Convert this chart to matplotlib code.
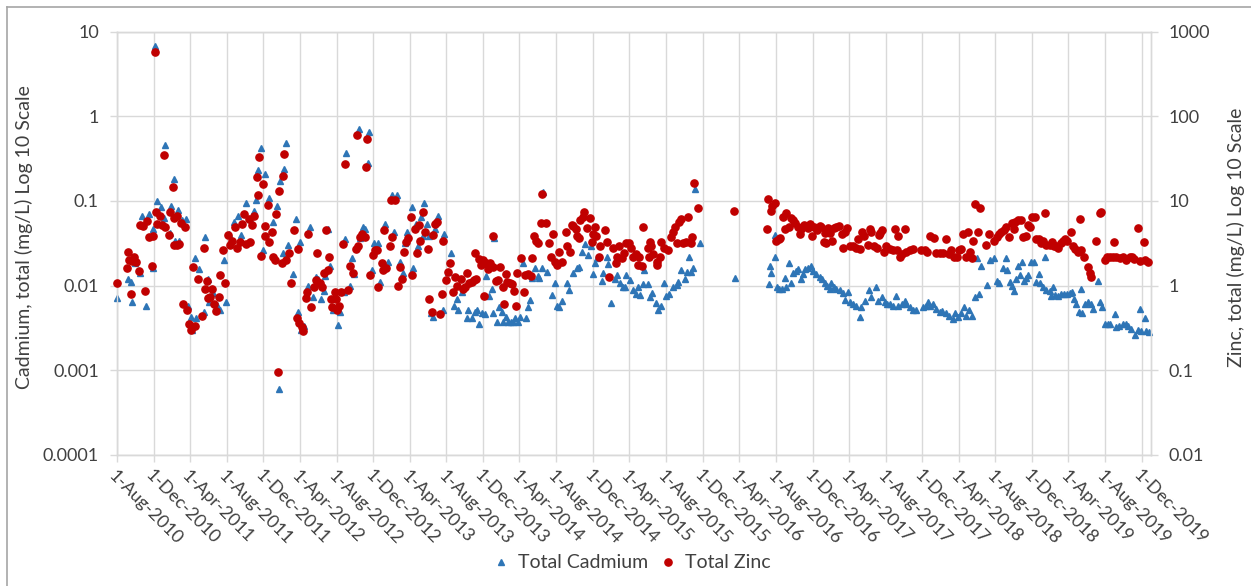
import matplotlib
matplotlib.use('Agg')
import matplotlib.pyplot as plt
from matplotlib.lines import Line2D
from matplotlib.ticker import FixedLocator, FixedFormatter, NullLocator
import pandas as pd

# --- data: (sample date, mg/L) ---
cadmium = [
    ('2010-08-01', 0.0071), ('2010-09-06', 0.0118), ('2010-09-16', 0.011), ('2010-09-20', 0.0064),
    ('2010-10-01', 0.0184), ('2010-10-17', 0.0139), ('2010-10-24', 0.067), ('2010-11-05', 0.0057),
    ('2010-11-15', 0.07), ('2010-11-28', 0.0163), ('2010-11-30', 0.047), ('2010-12-07', 6.8),
    ('2010-12-12', 0.099), ('2010-12-26', 0.085),
    ('2011-01-03', 0.062), ('2011-01-09', 0.46), ('2011-01-25', 0.042), ('2011-01-28', 0.087),
    ('2011-02-06', 0.18), ('2011-02-11', 0.034), ('2011-02-21', 0.079), ('2011-02-23', 0.034),
    ('2011-03-06', 0.059), ('2011-03-20', 0.061), ('2011-03-24', 0.0058), ('2011-04-04', 0.0043),
    ('2011-04-07', 0.0030), ('2011-04-18', 0.021), ('2011-04-22', 0.0041), ('2011-05-02', 0.0155),
    ('2011-05-17', 0.0049), ('2011-05-20', 0.037), ('2011-05-30', 0.0119), ('2011-06-03', 0.0064),
    ('2011-06-16', 0.0081), ('2011-07-01', 0.0059), ('2011-07-11', 0.0052), ('2011-07-24', 0.020),
    ('2011-07-29', 0.0064), ('2011-08-09', 0.041), ('2011-08-26', 0.056), ('2011-09-06', 0.067),
    ('2011-09-19', 0.040), ('2011-10-03', 0.095), ('2011-10-16', 0.061), ('2011-10-31', 0.076),
    ('2011-11-05', 0.103), ('2011-11-13', 0.23), ('2011-11-23', 0.42), ('2011-11-29', 0.026),
    ('2011-12-07', 0.21), ('2011-12-21', 0.107),
    ('2012-01-03', 0.057), ('2012-01-16', 0.088), ('2012-01-23', 0.00059), ('2012-01-26', 0.17),
    ('2012-02-05', 0.024), ('2012-02-08', 0.24), ('2012-02-13', 0.48), ('2012-02-21', 0.030),
    ('2012-03-07', 0.0135), ('2012-03-18', 0.061), ('2012-03-26', 0.0048), ('2012-03-31', 0.033),
    ('2012-04-05', 0.0030), ('2012-04-15', 0.0033), ('2012-04-26', 0.010), ('2012-05-04', 0.049),
    ('2012-05-13', 0.0073), ('2012-05-23', 0.0126), ('2012-06-01', 0.012), ('2012-06-10', 0.0069),
    ('2012-06-21', 0.0086), ('2012-06-24', 0.0130), ('2012-07-02', 0.047), ('2012-07-08', 0.017),
    ('2012-07-18', 0.0051), ('2012-08-04', 0.0034), ('2012-08-12', 0.0049), ('2012-08-26', 0.0084),
    ('2012-08-28', 0.035), ('2012-09-01', 0.37), ('2012-09-14', 0.010), ('2012-09-20', 0.021),
    ('2012-09-29', 0.0135), ('2012-10-14', 0.70), ('2012-10-19', 0.036), ('2012-10-29', 0.049),
    ('2012-11-04', 0.047), ('2012-11-12', 0.28), ('2012-11-16', 0.65), ('2012-11-26', 0.0152),
    ('2012-12-03', 0.032), ('2012-12-17', 0.032), ('2012-12-23', 0.011),
    ('2013-01-09', 0.053), ('2013-01-20', 0.019), ('2013-01-31', 0.116), ('2013-02-09', 0.043),
    ('2013-02-17', 0.116), ('2013-02-28', 0.019), ('2013-03-10', 0.0139), ('2013-03-16', 0.032),
    ('2013-03-22', 0.043), ('2013-04-09', 0.085), ('2013-04-13', 0.0159), ('2013-04-21', 0.053),
    ('2013-04-29', 0.029), ('2013-05-07', 0.065), ('2013-05-16', 0.038), ('2013-05-19', 0.095),
    ('2013-05-27', 0.053), ('2013-06-04', 0.038), ('2013-06-09', 0.0047), ('2013-06-18', 0.0043),
    ('2013-06-24', 0.047), ('2013-07-05', 0.067), ('2013-07-22', 0.0052), ('2013-07-25', 0.041),
    ('2013-08-07', 0.0143), ('2013-08-15', 0.024), ('2013-08-26', 0.0058), ('2013-09-04', 0.0070),
    ('2013-09-10', 0.0051), ('2013-09-23', 0.0084), ('2013-10-07', 0.0041), ('2013-10-13', 0.0051),
    ('2013-10-24', 0.0041), ('2013-11-04', 0.0049), ('2013-11-12', 0.0052), ('2013-11-18', 0.0035),
    ('2013-11-26', 0.0047), ('2013-12-07', 0.0046), ('2013-12-10', 0.0129), ('2013-12-21', 0.0075),
    ('2013-12-29', 0.0092),
    ('2014-01-04', 0.0047), ('2014-01-06', 0.036), ('2014-01-15', 0.0037), ('2014-01-24', 0.0056),
    ('2014-02-01', 0.0049), ('2014-02-06', 0.0037), ('2014-02-15', 0.0042), ('2014-02-23', 0.0037),
    ('2014-03-03', 0.0037), ('2014-03-11', 0.0037), ('2014-03-17', 0.0041), ('2014-03-28', 0.0037),
    ('2014-04-03', 0.0042), ('2014-04-12', 0.0187), ('2014-04-22', 0.0041), ('2014-04-28', 0.0056),
    ('2014-05-06', 0.0067), ('2014-05-12', 0.0121), ('2014-05-23', 0.0159), ('2014-05-31', 0.0129),
    ('2014-06-06', 0.0121), ('2014-06-14', 0.0159), ('2014-06-19', 0.128), ('2014-07-03', 0.0145),
    ('2014-07-17', 0.0077), ('2014-07-28', 0.0107), ('2014-08-03', 0.0058), ('2014-08-10', 0.0055),
    ('2014-08-19', 0.0066), ('2014-09-07', 0.0107), ('2014-09-13', 0.0088), ('2014-09-27', 0.0139),
    ('2014-10-08', 0.0159), ('2014-10-17', 0.0166), ('2014-10-25', 0.025), ('2014-11-05', 0.031),
    ('2014-11-16', 0.023), ('2014-11-24', 0.029), ('2014-11-30', 0.0136), ('2014-12-08', 0.0183),
    ('2014-12-16', 0.021), ('2014-12-30', 0.0113),
    ('2015-01-05', 0.0141), ('2015-01-16', 0.0215), ('2015-01-21', 0.0179), ('2015-01-29', 0.0062),
    ('2015-02-12', 0.0118), ('2015-02-20', 0.0132), ('2015-03-01', 0.0107), ('2015-03-10', 0.0095),
    ('2015-03-17', 0.0097), ('2015-03-23', 0.0132), ('2015-04-03', 0.0116), ('2015-04-14', 0.0088),
    ('2015-04-25', 0.0080), ('2015-05-01', 0.0097), ('2015-05-06', 0.0077), ('2015-05-17', 0.0104),
    ('2015-05-20', 0.0152), ('2015-06-03', 0.0104), ('2015-06-09', 0.0073), ('2015-06-16', 0.0082),
    ('2015-06-28', 0.0062), ('2015-07-07', 0.0051), ('2015-07-15', 0.0058), ('2015-07-26', 0.0107),
    ('2015-08-03', 0.0075), ('2015-08-12', 0.0080), ('2015-08-25', 0.0095), ('2015-09-06', 0.0101),
    ('2015-09-11', 0.0110), ('2015-09-22', 0.0152), ('2015-10-03', 0.0118), ('2015-10-09', 0.0145),
    ('2015-10-16', 0.0215), ('2015-10-25', 0.0145), ('2015-10-31', 0.0163), ('2015-11-05', 0.14),
    ('2015-11-22', 0.032),
    ('2016-03-17', 0.0124), ('2016-07-08', 0.0104), ('2016-07-12', 0.0170), ('2016-07-17', 0.0141),
    ('2016-07-28', 0.0215), ('2016-07-30', 0.039), ('2016-08-06', 0.0097), ('2016-08-13', 0.0090),
    ('2016-08-21', 0.0090), ('2016-08-30', 0.0124), ('2016-09-05', 0.0097), ('2016-09-13', 0.0183),
    ('2016-09-21', 0.0107), ('2016-09-27', 0.0139), ('2016-10-08', 0.0149), ('2016-10-15', 0.0155),
    ('2016-10-24', 0.0118), ('2016-10-30', 0.0136), ('2016-11-07', 0.0155), ('2016-11-16', 0.0159),
    ('2016-11-25', 0.0170), ('2016-12-03', 0.0149), ('2016-12-14', 0.0136), ('2016-12-25', 0.0127),
    ('2017-01-03', 0.0118), ('2017-01-10', 0.0106), ('2017-01-18', 0.0098), ('2017-01-27', 0.0090),
    ('2017-02-02', 0.0107), ('2017-02-09', 0.0095), ('2017-02-18', 0.0090), ('2017-03-02', 0.0088),
    ('2017-03-13', 0.0082), ('2017-03-19', 0.0068), ('2017-03-30', 0.0084), ('2017-04-06', 0.0064),
    ('2017-04-15', 0.0060), ('2017-04-24', 0.0057), ('2017-05-07', 0.0042), ('2017-05-12', 0.0056),
    ('2017-05-23', 0.0066), ('2017-06-07', 0.0088), ('2017-06-15', 0.0073), ('2017-06-29', 0.0097),
    ('2017-07-07', 0.0066), ('2017-07-21', 0.0073), ('2017-07-29', 0.0064), ('2017-08-06', 0.0060),
    ('2017-08-15', 0.0060), ('2017-08-24', 0.0058), ('2017-09-04', 0.0075), ('2017-09-12', 0.0058),
    ('2017-09-23', 0.0060), ('2017-10-04', 0.0066), ('2017-10-09', 0.0061), ('2017-10-20', 0.0055),
    ('2017-10-31', 0.0052), ('2017-11-11', 0.0052), ('2017-12-02', 0.0055), ('2017-12-13', 0.0057),
    ('2017-12-20', 0.0064), ('2017-12-28', 0.0058),
    ('2018-01-06', 0.0060), ('2018-01-17', 0.0053), ('2018-01-28', 0.0049), ('2018-02-06', 0.0050),
    ('2018-02-17', 0.0047), ('2018-02-28', 0.0044), ('2018-03-12', 0.0040), ('2018-03-19', 0.0047),
    ('2018-03-31', 0.0043), ('2018-04-10', 0.0047), ('2018-04-19', 0.0055), ('2018-04-27', 0.0044),
    ('2018-05-06', 0.0052), ('2018-05-17', 0.0044), ('2018-05-25', 0.0073), ('2018-06-01', 0.021),
    ('2018-06-08', 0.0079), ('2018-06-16', 0.0170), ('2018-07-03', 0.0101), ('2018-07-13', 0.020),
    ('2018-07-27', 0.021), ('2018-08-08', 0.0113), ('2018-08-12', 0.0106), ('2018-08-26', 0.0163),
    ('2018-09-04', 0.021), ('2018-09-10', 0.0152), ('2018-09-18', 0.0110), ('2018-09-24', 0.0098),
    ('2018-10-02', 0.0086), ('2018-10-10', 0.0118), ('2018-10-15', 0.017), ('2018-10-21', 0.0132),
    ('2018-10-28', 0.019), ('2018-11-04', 0.0113), ('2018-11-12', 0.0121), ('2018-11-19', 0.0132),
    ('2018-11-28', 0.019), ('2018-12-07', 0.019), ('2018-12-15', 0.0110), ('2018-12-26', 0.0136),
    ('2018-12-29', 0.0106),
    ('2019-01-07', 0.0097), ('2019-01-15', 0.022), ('2019-01-18', 0.0088), ('2019-01-29', 0.0086),
    ('2019-02-03', 0.0075), ('2019-02-09', 0.0095), ('2019-02-16', 0.0077), ('2019-02-27', 0.0075),
    ('2019-03-08', 0.0080), ('2019-03-17', 0.0080), ('2019-03-28', 0.0079), ('2019-04-05', 0.0082),
    ('2019-04-13', 0.0084), ('2019-04-19', 0.0070), ('2019-04-27', 0.0060), ('2019-05-05', 0.0049),
    ('2019-05-12', 0.0090), ('2019-05-17', 0.0047), ('2019-05-27', 0.0060), ('2019-06-05', 0.0064),
    ('2019-06-14', 0.0061), ('2019-06-22', 0.0053), ('2019-07-08', 0.0113), ('2019-07-14', 0.0064),
    ('2019-07-21', 0.0056), ('2019-08-02', 0.0035), ('2019-08-10', 0.0035), ('2019-08-19', 0.0035),
    ('2019-09-02', 0.0046), ('2019-09-07', 0.0032), ('2019-09-18', 0.0033), ('2019-09-29', 0.0035),
    ('2019-10-10', 0.0035), ('2019-10-18', 0.0033), ('2019-10-27', 0.0031), ('2019-11-09', 0.0026),
    ('2019-11-18', 0.0030), ('2019-11-24', 0.0053), ('2019-11-29', 0.0029), ('2019-12-13', 0.0041),
    ('2019-12-16', 0.0029), ('2019-12-27', 0.0028),
]

zinc = [
    ('2010-08-01', 1.08), ('2010-09-03', 1.6), ('2010-09-06', 2.5), ('2010-09-11', 2.0),
    ('2010-09-16', 0.80), ('2010-09-19', 1.97), ('2010-09-28', 2.15), ('2010-10-04', 1.9),
    ('2010-10-14', 1.48), ('2010-10-17', 5.2), ('2010-10-28', 5.0), ('2010-11-02', 0.86),
    ('2010-11-10', 5.8), ('2010-11-17', 3.7), ('2010-11-25', 1.72), ('2010-11-28', 3.8),
    ('2010-12-05', 570), ('2010-12-10', 7.3), ('2010-12-12', 5.4), ('2010-12-23', 6.7),
    ('2010-12-28', 5.2),
    ('2011-01-05', 35), ('2011-01-09', 4.9), ('2011-01-21', 3.9), ('2011-01-25', 7.4),
    ('2011-02-02', 14.7), ('2011-02-05', 6.2), ('2011-02-07', 3.0), ('2011-02-16', 6.7),
    ('2011-02-17', 3.0), ('2011-02-24', 3.1), ('2011-03-03', 5.5), ('2011-03-07', 0.6),
    ('2011-03-16', 4.9), ('2011-03-21', 0.51), ('2011-03-29', 0.35), ('2011-04-04', 0.30),
    ('2011-04-12', 1.65), ('2011-04-18', 0.33), ('2011-04-28', 1.19), ('2011-05-12', 0.44),
    ('2011-05-16', 2.8), ('2011-05-21', 0.92), ('2011-05-27', 1.12), ('2011-05-30', 0.71),
    ('2011-06-05', 0.73), ('2011-06-14', 0.92), ('2011-06-21', 0.6), ('2011-06-27', 0.5),
    ('2011-07-06', 0.73), ('2011-07-11', 1.32), ('2011-07-21', 2.6), ('2011-07-25', 1.08),
    ('2011-08-04', 4.0), ('2011-08-12', 3.0), ('2011-08-19', 3.4), ('2011-08-30', 4.9),
    ('2011-09-05', 2.75), ('2011-09-15', 3.3), ('2011-09-21', 5.3), ('2011-09-28', 7.0),
    ('2011-10-03', 3.1), ('2011-10-13', 6.1), ('2011-10-16', 3.3), ('2011-10-25', 5.2),
    ('2011-10-31', 6.7), ('2011-11-10', 19), ('2011-11-13', 11.6), ('2011-11-18', 33),
    ('2011-11-23', 2.25), ('2011-12-01', 16), ('2011-12-07', 5.0), ('2011-12-08', 3.8),
    ('2011-12-16', 9.0), ('2011-12-21', 3.3), ('2011-12-30', 4.3),
    ('2012-01-03', 2.15), ('2012-01-08', 2.0), ('2012-01-12', 7.0), ('2012-01-17', 0.095),
    ('2012-01-23', 13), ('2012-01-31', 1.86), ('2012-02-05', 19.5), ('2012-02-09', 36),
    ('2012-02-14', 2.0), ('2012-02-23', 2.4), ('2012-03-03', 1.08), ('2012-03-13', 4.5),
    ('2012-03-21', 0.41), ('2012-03-26', 2.7), ('2012-03-30', 0.36), ('2012-04-07', 0.32),
    ('2012-04-12', 0.29), ('2012-04-20', 0.71), ('2012-04-24', 0.83), ('2012-04-28', 4.1),
    ('2012-05-08', 0.56), ('2012-05-19', 0.96), ('2012-05-23', 1.16), ('2012-05-28', 2.4),
    ('2012-06-05', 1.06), ('2012-06-14', 0.96), ('2012-06-19', 1.39), ('2012-06-27', 4.5),
    ('2012-07-03', 1.52), ('2012-07-05', 2.2), ('2012-07-13', 0.69), ('2012-07-16', 0.56),
    ('2012-07-27', 0.84), ('2012-07-29', 0.69), ('2012-08-01', 0.52), ('2012-08-08', 0.58),
    ('2012-08-15', 0.84), ('2012-08-22', 3.1), ('2012-08-28', 27), ('2012-09-09', 0.88),
    ('2012-09-14', 1.7), ('2012-09-25', 1.39), ('2012-10-05', 2.7), ('2012-10-09', 60),
    ('2012-10-10', 2.95), ('2012-10-18', 3.7), ('2012-10-23', 4.1), ('2012-11-04', 3.7),
    ('2012-11-06', 25), ('2012-11-10', 54), ('2012-11-20', 1.32), ('2012-12-01', 2.3),
    ('2012-12-06', 2.6), ('2012-12-12', 2.6), ('2012-12-17', 0.96), ('2012-12-28', 1.87),
    ('2013-01-03', 1.52), ('2013-01-05', 4.5), ('2013-01-12', 1.6), ('2013-01-24', 2.95),
    ('2013-01-28', 10.2), ('2013-02-02', 3.7), ('2013-02-11', 10.2), ('2013-02-22', 1.0),
    ('2013-02-27', 1.64), ('2013-03-07', 1.19), ('2013-03-12', 2.5), ('2013-03-18', 3.3),
    ('2013-03-25', 3.6), ('2013-04-05', 6.5), ('2013-04-09', 1.32), ('2013-04-19', 4.7),
    ('2013-04-25', 2.4), ('2013-05-02', 5.2), ('2013-05-06', 3.4), ('2013-05-16', 7.4),
    ('2013-05-22', 4.3), ('2013-05-31', 2.7), ('2013-06-04', 0.69), ('2013-06-13', 0.49),
    ('2013-06-18', 4.0), ('2013-06-24', 5.4), ('2013-07-02', 5.7), ('2013-07-12', 0.46),
    ('2013-07-16', 0.8), ('2013-07-20', 3.4), ('2013-07-30', 1.16), ('2013-08-07', 1.43),
    ('2013-08-13', 1.86), ('2013-08-22', 0.84), ('2013-08-31', 1.27), ('2013-09-05', 1.0),
    ('2013-09-20', 1.2), ('2013-09-26', 0.92), ('2013-10-02', 0.95), ('2013-10-07', 1.39),
    ('2013-10-16', 1.06), ('2013-10-24', 1.1), ('2013-11-01', 1.16), ('2013-11-04', 2.45),
    ('2013-11-09', 1.2), ('2013-11-17', 2.05), ('2013-11-23', 1.74), ('2013-12-02', 2.0),
    ('2013-12-04', 0.75), ('2013-12-10', 1.86), ('2013-12-18', 1.55), ('2013-12-24', 1.83),
    ('2014-01-02', 1.66), ('2014-01-04', 3.8), ('2014-01-13', 1.13), ('2014-01-20', 1.17),
    ('2014-01-26', 1.64), ('2014-02-04', 0.95), ('2014-02-09', 0.61), ('2014-02-15', 1.36),
    ('2014-02-20', 1.1), ('2014-02-28', 1.06), ('2014-03-06', 1.04), ('2014-03-13', 0.86),
    ('2014-03-20', 0.58), ('2014-03-24', 1.41), ('2014-04-06', 2.1), ('2014-04-17', 0.83),
    ('2014-04-21', 1.32), ('2014-04-30', 1.36), ('2014-05-08', 1.29), ('2014-05-13', 2.1),
    ('2014-05-19', 3.8), ('2014-05-25', 3.35), ('2014-06-02', 3.16), ('2014-06-10', 5.5),
    ('2014-06-15', 12.2), ('2014-06-28', 5.5), ('2014-07-09', 3.16), ('2014-07-14', 2.2),
    ('2014-07-22', 4.1), ('2014-07-28', 1.9), ('2014-08-03', 1.74), ('2014-08-10', 2.5),
    ('2014-08-19', 1.9), ('2014-09-03', 4.3), ('2014-09-07', 2.9), ('2014-09-16', 2.5),
    ('2014-09-22', 5.2), ('2014-09-27', 5.0), ('2014-10-06', 4.6), ('2014-10-10', 3.8),
    ('2014-10-17', 3.6), ('2014-10-21', 5.9), ('2014-10-28', 6.5), ('2014-11-02', 7.3),
    ('2014-11-13', 4.8), ('2014-11-21', 6.3), ('2014-11-27', 3.3), ('2014-11-30', 4.1),
    ('2014-12-08', 4.9), ('2014-12-13', 3.8), ('2014-12-22', 2.2), ('2014-12-26', 2.9),
    ('2015-01-10', 4.5), ('2015-01-16', 3.3), ('2015-01-24', 1.27), ('2015-02-07', 2.75),
    ('2015-02-15', 1.83), ('2015-02-20', 2.2), ('2015-02-26', 2.9), ('2015-03-07', 2.1),
    ('2015-03-14', 2.45), ('2015-03-23', 3.16), ('2015-04-01', 3.2), ('2015-04-06', 2.8),
    ('2015-04-14', 2.2), ('2015-04-23', 2.36), ('2015-05-01', 1.74), ('2015-05-04', 2.15),
    ('2015-05-12', 1.7), ('2015-05-18', 4.9), ('2015-06-01', 2.75), ('2015-06-05', 2.2),
    ('2015-06-09', 3.3), ('2015-06-12', 2.9), ('2015-06-20', 2.36), ('2015-07-01', 1.74),
    ('2015-07-04', 1.9), ('2015-07-12', 2.2), ('2015-07-17', 3.3), ('2015-07-26', 2.75),
    ('2015-08-07', 2.6), ('2015-08-18', 3.7), ('2015-08-25', 4.3), ('2015-09-02', 4.9),
    ('2015-09-06', 3.16), ('2015-09-13', 5.7), ('2015-09-20', 6.1), ('2015-09-28', 3.16),
    ('2015-10-06', 3.3), ('2015-10-12', 6.5), ('2015-10-23', 3.2), ('2015-10-27', 3.7),
    ('2015-11-03', 16.5), ('2015-11-16', 8.2),
    ('2016-03-15', 7.5), ('2016-07-04', 4.6), ('2016-07-06', 10.5), ('2016-07-15', 7.5),
    ('2016-07-19', 8.8), ('2016-07-28', 9.5), ('2016-08-03', 3.4), ('2016-08-10', 3.5),
    ('2016-08-16', 3.6), ('2016-08-24', 6.5), ('2016-08-30', 4.6), ('2016-09-05', 7.2),
    ('2016-09-13', 4.9), ('2016-09-19', 6.3), ('2016-09-27', 5.9), ('2016-10-05', 5.5),
    ('2016-10-12', 4.9), ('2016-10-19', 4.1), ('2016-10-25', 4.6), ('2016-11-03', 5.2),
    ('2016-11-16', 4.8), ('2016-11-22', 5.4), ('2016-11-30', 3.8), ('2016-12-06', 4.9),
    ('2016-12-16', 4.5), ('2016-12-25', 5.0), ('2016-12-30', 4.9),
    ('2017-01-07', 3.3), ('2017-01-10', 4.2), ('2017-01-16', 3.2), ('2017-01-21', 4.8),
    ('2017-01-29', 4.2), ('2017-02-05', 3.4), ('2017-02-09', 4.8), ('2017-02-18', 4.9),
    ('2017-02-27', 5.0), ('2017-03-08', 4.1), ('2017-03-13', 2.8), ('2017-03-19', 4.3),
    ('2017-03-26', 4.8), ('2017-04-04', 2.9), ('2017-04-13', 2.9), ('2017-04-24', 2.8),
    ('2017-05-02', 3.5), ('2017-05-09', 2.7), ('2017-05-16', 4.3), ('2017-05-20', 3.8),
    ('2017-06-04', 3.0), ('2017-06-09', 4.6), ('2017-06-15', 4.3), ('2017-06-22', 2.9),
    ('2017-07-02', 2.8), ('2017-07-10', 3.95), ('2017-07-15', 4.2), ('2017-07-21', 4.5),
    ('2017-07-26', 2.5), ('2017-08-04', 2.9), ('2017-08-15', 2.7), ('2017-08-24', 2.6),
    ('2017-09-01', 4.6), ('2017-09-09', 2.6), ('2017-09-12', 3.8), ('2017-09-18', 2.2),
    ('2017-09-26', 2.36), ('2017-10-04', 4.6), ('2017-10-09', 2.5), ('2017-10-20', 2.6),
    ('2017-10-31', 2.7), ('2017-11-28', 2.6), ('2017-12-09', 2.6), ('2017-12-17', 2.5),
    ('2017-12-28', 3.8),
    ('2018-01-08', 3.6), ('2018-01-17', 2.45), ('2018-01-28', 2.45), ('2018-02-08', 2.45),
    ('2018-02-19', 3.5), ('2018-02-28', 2.36), ('2018-03-08', 2.6), ('2018-03-16', 2.15),
    ('2018-03-25', 2.15), ('2018-04-02', 2.6), ('2018-04-10', 2.7), ('2018-04-17', 4.1),
    ('2018-04-24', 2.2), ('2018-05-02', 4.3), ('2018-05-10', 2.5), ('2018-05-16', 2.1),
    ('2018-05-18', 3.4), ('2018-05-27', 9.1), ('2018-06-04', 4.3), ('2018-06-12', 8.2),
    ('2018-06-30', 3.0), ('2018-07-11', 4.1), ('2018-07-27', 3.4), ('2018-08-05', 3.7),
    ('2018-08-12', 4.05), ('2018-08-21', 4.3), ('2018-08-30', 4.5), ('2018-09-04', 4.9),
    ('2018-09-15', 3.7), ('2018-09-24', 5.5), ('2018-10-03', 4.6), ('2018-10-07', 5.7),
    ('2018-10-16', 6.0), ('2018-10-25', 5.9), ('2018-11-01', 3.7), ('2018-11-12', 3.8),
    ('2018-11-17', 5.2), ('2018-11-26', 4.9), ('2018-12-01', 6.5), ('2018-12-10', 6.5),
    ('2018-12-15', 3.5), ('2018-12-23', 3.5), ('2018-12-30', 3.2),
    ('2019-01-07', 3.4), ('2019-01-12', 7.2), ('2019-01-18', 3.0), ('2019-01-29', 3.0),
    ('2019-02-05', 3.3), ('2019-02-12', 2.9), ('2019-02-20', 2.9), ('2019-02-27', 2.8),
    ('2019-03-07', 3.16), ('2019-03-14', 3.4), ('2019-03-22', 3.5), ('2019-03-29', 3.4),
    ('2019-04-11', 4.3), ('2019-04-16', 2.9), ('2019-04-24', 2.7), ('2019-05-03', 2.5),
    ('2019-05-09', 6.1), ('2019-05-14', 2.6), ('2019-05-23', 2.2), ('2019-06-05', 1.66),
    ('2019-06-11', 1.41), ('2019-06-16', 1.27), ('2019-07-03', 3.4), ('2019-07-14', 7.2),
    ('2019-07-19', 7.4), ('2019-07-31', 2.0), ('2019-08-09', 2.2), ('2019-08-16', 2.15),
    ('2019-08-27', 2.15), ('2019-08-30', 3.3), ('2019-09-08', 2.15), ('2019-09-19', 2.1),
    ('2019-09-30', 2.15), ('2019-10-11', 2.0), ('2019-10-22', 2.15), ('2019-10-30', 2.15),
    ('2019-11-07', 2.05), ('2019-11-18', 4.8), ('2019-11-24', 1.97), ('2019-12-08', 3.3),
    ('2019-12-11', 2.0), ('2019-12-22', 1.9),
]

cd_ticks = [1e-4, 1e-3, 1e-2, 1e-1, 1, 10]
cd_tick_labels = ['0.0001', '0.001', '0.01', '0.1', '1', '10']
zn_ticks = [1e-2, 1e-1, 1, 10, 100, 1000]
zn_tick_labels = ['0.01', '0.1', '1', '10', '100', '1000']

C_CD = '#2E75B6'
C_ZN = '#C00000'
C_GRID = '#D9D9D9'
C_TEXT = '#404040'

plt.rcParams['font.family'] = ['Lato', 'DejaVu Sans']

W, H = 1251, 586
fig = plt.figure(figsize=(W / 100, H / 100), dpi=100)
ax = fig.add_axes([117 / W, 1 - 454.7 / H, (1150.7 - 117) / W, (454.7 - 31.7) / H])
ax2 = ax.twinx()

cd_x = pd.to_datetime([d for d, _ in cadmium])
cd_y = [v for _, v in cadmium]
zn_x = pd.to_datetime([d for d, _ in zinc])
zn_y = [v for _, v in zinc]

ax.plot(cd_x, cd_y, ls='none', marker='^', ms=5.0, color=C_CD, mec=C_CD, clip_on=False, zorder=3)
ax2.plot(zn_x, zn_y, ls='none', marker='o', ms=5.2, color=C_ZN, mec=C_ZN, clip_on=False, zorder=3)

# axes, scales, ticks
ax.set_yscale('log')
ax.set_ylim(1e-4, 10)
ax2.set_yscale('log')
ax2.set_ylim(1e-2, 1e3)
ax.set_xlim(pd.Timestamp('2010-08-01'), pd.Timestamp('2019-12-31'))

tick_dates = pd.date_range('2010-08-01', '2019-12-01', freq='4MS')
ax.set_xticks(tick_dates)
ax.set_xticklabels([f'{d.day}-{d:%b-%Y}' for d in tick_dates], rotation=-45,
                   ha='left', va='top', rotation_mode='anchor')

ax.yaxis.set_major_locator(FixedLocator(cd_ticks))
ax.yaxis.set_major_formatter(FixedFormatter(cd_tick_labels))
ax.yaxis.set_minor_locator(NullLocator())
ax2.yaxis.set_major_locator(FixedLocator(zn_ticks))
ax2.yaxis.set_major_formatter(FixedFormatter(zn_tick_labels))
ax2.yaxis.set_minor_locator(NullLocator())
ax.xaxis.set_minor_locator(NullLocator())

ax.tick_params(axis='y', length=5, width=1, color=C_GRID, labelcolor=C_TEXT, labelsize=13, pad=8)
ax.tick_params(axis='x', length=5, width=1, color=C_GRID, labelcolor=C_TEXT, labelsize=13, pad=4)
ax2.tick_params(axis='y', length=5, width=1, color=C_GRID, labelcolor=C_TEXT, labelsize=13, pad=8)

ax.grid(True, which='major', color=C_GRID, lw=1)
ax.set_axisbelow(True)
for a in (ax, ax2):
    for sp in a.spines.values():
        sp.set_color(C_GRID)
        sp.set_linewidth(1)

ax.set_ylabel('Cadmium, total (mg/L) Log 10 Scale', fontsize=14, color=C_TEXT)
ax2.set_ylabel('Zinc, total (mg/L) Log 10 Scale', fontsize=14, color=C_TEXT)
ax.yaxis.set_label_coords(-0.081, 0.515)
ax2.yaxis.set_label_coords(1.074, 0.515)

# legend
handles = [
    Line2D([], [], ls='none', marker='^', ms=5.0, color=C_CD, label='Total Cadmium'),
    Line2D([], [], ls='none', marker='o', ms=5.2, color=C_ZN, label='Total Zinc'),
]
fig.legend(handles=handles, loc='center', bbox_to_anchor=(0.505, 1 - 563 / H), ncol=2,
           frameon=False, fontsize=14, labelcolor=C_TEXT, handlelength=0.8,
           handletextpad=0.5, columnspacing=0.6)

# chart area border (cut at right/bottom like the screenshot)
fig.add_artist(Line2D([6.5 / W, 6.5 / W], [0, 1 - 7 / H], transform=fig.transFigure,
                      color='#A6A6A6', lw=1.2))
fig.add_artist(Line2D([6.5 / W, 1], [1 - 7 / H, 1 - 7 / H], transform=fig.transFigure,
                      color='#A6A6A6', lw=1.2))

fig.savefig('out.png', dpi=100)
